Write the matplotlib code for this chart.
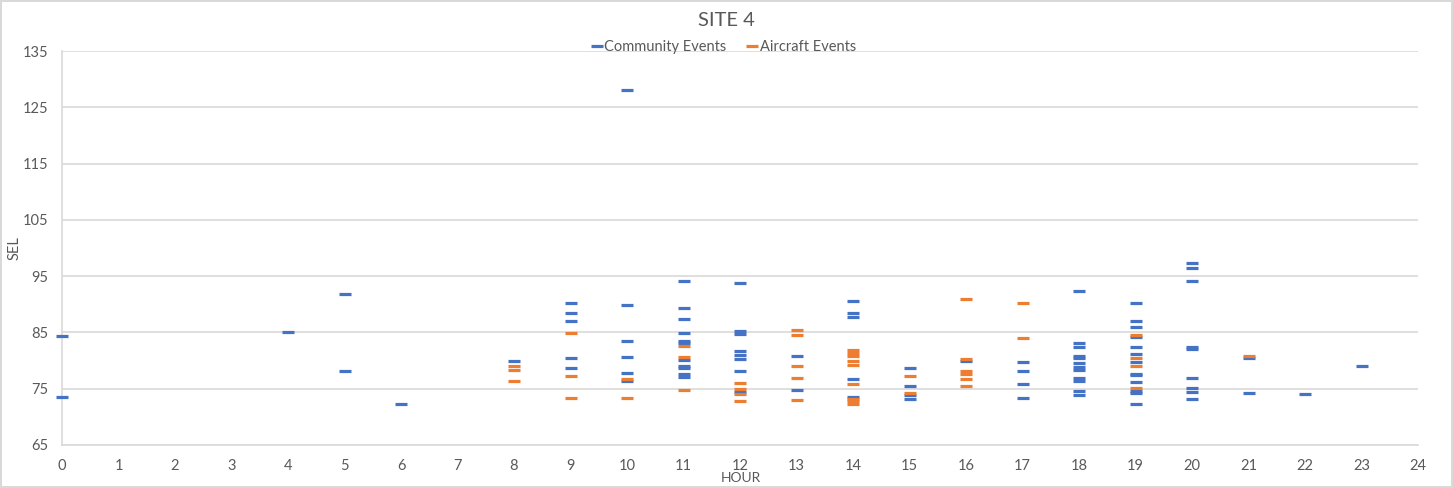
import matplotlib.pyplot as plt
from matplotlib.lines import Line2D

# --- SITE 4: SEL by hour ---

community_hours = [0, 0, 4, 5, 5, 6,
                   8,
                   9, 9, 9, 9, 9,
                   10, 10, 10, 10, 10, 10,
                   11, 11, 11, 11, 11, 11, 11, 11, 11, 11, 11,
                   12, 12, 12, 12, 12, 12, 12, 12,
                   13, 13,
                   14, 14, 14, 14, 14,
                   15, 15, 15, 15,
                   16,
                   17, 17, 17, 17,
                   18, 18, 18, 18, 18, 18, 18, 18, 18, 18, 18, 18,
                   19, 19, 19, 19, 19, 19, 19, 19, 19, 19, 19, 19, 19,
                   20, 20, 20, 20, 20, 20, 20, 20, 20,
                   21, 21, 22, 23]
community_sel = [84.4, 73.6, 85.1, 91.9, 78.1, 72.2,
                 79.9,
                 90.3, 88.5, 87.0, 80.5, 78.6,
                 128.0, 89.8, 83.5, 80.7, 77.8, 76.3,
                 94.1, 89.4, 87.3, 84.9, 83.5, 83.1, 80.1, 79.0, 78.6, 77.7, 77.1,
                 93.7, 85.3, 84.7, 81.7, 81.0, 80.2, 78.2, 74.4,
                 80.9, 74.8,
                 90.5, 88.4, 87.7, 76.8, 73.5,
                 78.7, 75.4, 73.9, 73.2,
                 80.0,
                 79.7, 78.2, 75.8, 73.3,
                 92.4, 83.1, 82.5, 80.9, 80.4, 79.6, 78.9, 78.3, 76.9, 76.4, 74.6, 73.8,
                 90.2, 87.1, 85.9, 84.1, 82.5, 81.2, 79.7, 77.7, 77.5, 76.2, 74.6, 74.3, 72.2,
                 97.3, 96.5, 94.2, 82.5, 82.0, 76.9, 75.2, 74.4, 73.2,
                 80.5, 74.3, 74.0, 79.0]

aircraft_hours = [8, 8, 8,
                  9, 9, 9,
                  10, 10,
                  11, 11, 11,
                  12, 12, 12, 12,
                  13, 13, 13, 13, 13,
                  14, 14, 14, 14, 14, 14, 14, 14, 14,
                  15, 15,
                  16, 16, 16, 16, 16, 16,
                  17, 17,
                  19, 19, 19, 19,
                  21]
aircraft_sel = [79.1, 78.3, 76.4,
                84.9, 77.2, 73.3,
                76.8, 73.3,
                82.6, 80.7, 74.8,
                76.1, 75.0, 74.1, 72.9,
                85.5, 84.5, 79.0, 76.9, 73.0,
                81.9, 81.4, 80.9, 79.9, 79.3, 75.8, 73.1, 72.8, 72.3,
                77.3, 74.2,
                90.9, 80.3, 78.2, 77.6, 76.8, 75.4,
                90.3, 84.0,
                84.5, 80.5, 79.0, 75.2,
                80.9]

x_ticks = list(range(0, 25))
y_ticks = [65, 75, 85, 95, 105, 115, 125, 135]

BLUE = '#4472C4'
ORANGE = '#ED7D31'
TEXT = '#595959'
GRID = '#d9d9d9'

plt.rcParams['font.family'] = ['Lato', 'DejaVu Sans']

fig = plt.figure(figsize=(14.53, 4.88), dpi=100)
fig.patch.set_edgecolor(GRID)
fig.patch.set_linewidth(1.5)
ax = fig.add_axes([62 / 1453, 1 - 445 / 488, (1418 - 62) / 1453, (445 - 51) / 488])

ax.plot(community_hours, community_sel, linestyle='none', marker='_',
        markersize=9, markeredgewidth=2.3, color=BLUE, clip_on=False, zorder=3)
ax.plot(aircraft_hours, aircraft_sel, linestyle='none', marker='_',
        markersize=9, markeredgewidth=2.3, color=ORANGE, clip_on=False, zorder=3)

ax.set_xlim(0, 24)
ax.set_ylim(65, 135)
ax.set_xticks(x_ticks)
ax.set_yticks(y_ticks)
ax.tick_params(axis='both', length=0, labelsize=10.5, colors=TEXT)
ax.tick_params(axis='y', pad=10)
ax.tick_params(axis='x', pad=10)
ax.grid(axis='y', color=GRID, linewidth=1.2)
ax.set_axisbelow(True)
for side in ['top', 'right']:
    ax.spines[side].set_visible(False)
for side in ['left', 'bottom']:
    ax.spines[side].set_color(GRID)
    ax.spines[side].set_linewidth(1.2)

fig.text(0.5, 1 - 20 / 488, 'SITE 4', ha='center', va='center', fontsize=14.5, color=TEXT)
fig.text(741 / 1453, 1 - 478.5 / 488, 'HOUR', ha='center', va='center', fontsize=10, color=TEXT)
fig.text(15 / 1453, 1 - 248 / 488, 'SEL', ha='center', va='center', fontsize=10.5,
         color=TEXT, rotation=90)

handles = [Line2D([], [], linestyle='none', marker='_', markersize=9, markeredgewidth=2.3, color=BLUE),
           Line2D([], [], linestyle='none', marker='_', markersize=9, markeredgewidth=2.3, color=ORANGE)]
fig.legend(handles, ['Community Events', 'Aircraft Events'], loc='center',
           bbox_to_anchor=(724 / 1453, 1 - 47 / 488), ncol=2, frameon=False,
           fontsize=10.5, labelcolor=TEXT, handlelength=0.6, handletextpad=0.2,
           columnspacing=1.5)

plt.savefig('out.png', dpi=100, edgecolor=fig.get_edgecolor())
